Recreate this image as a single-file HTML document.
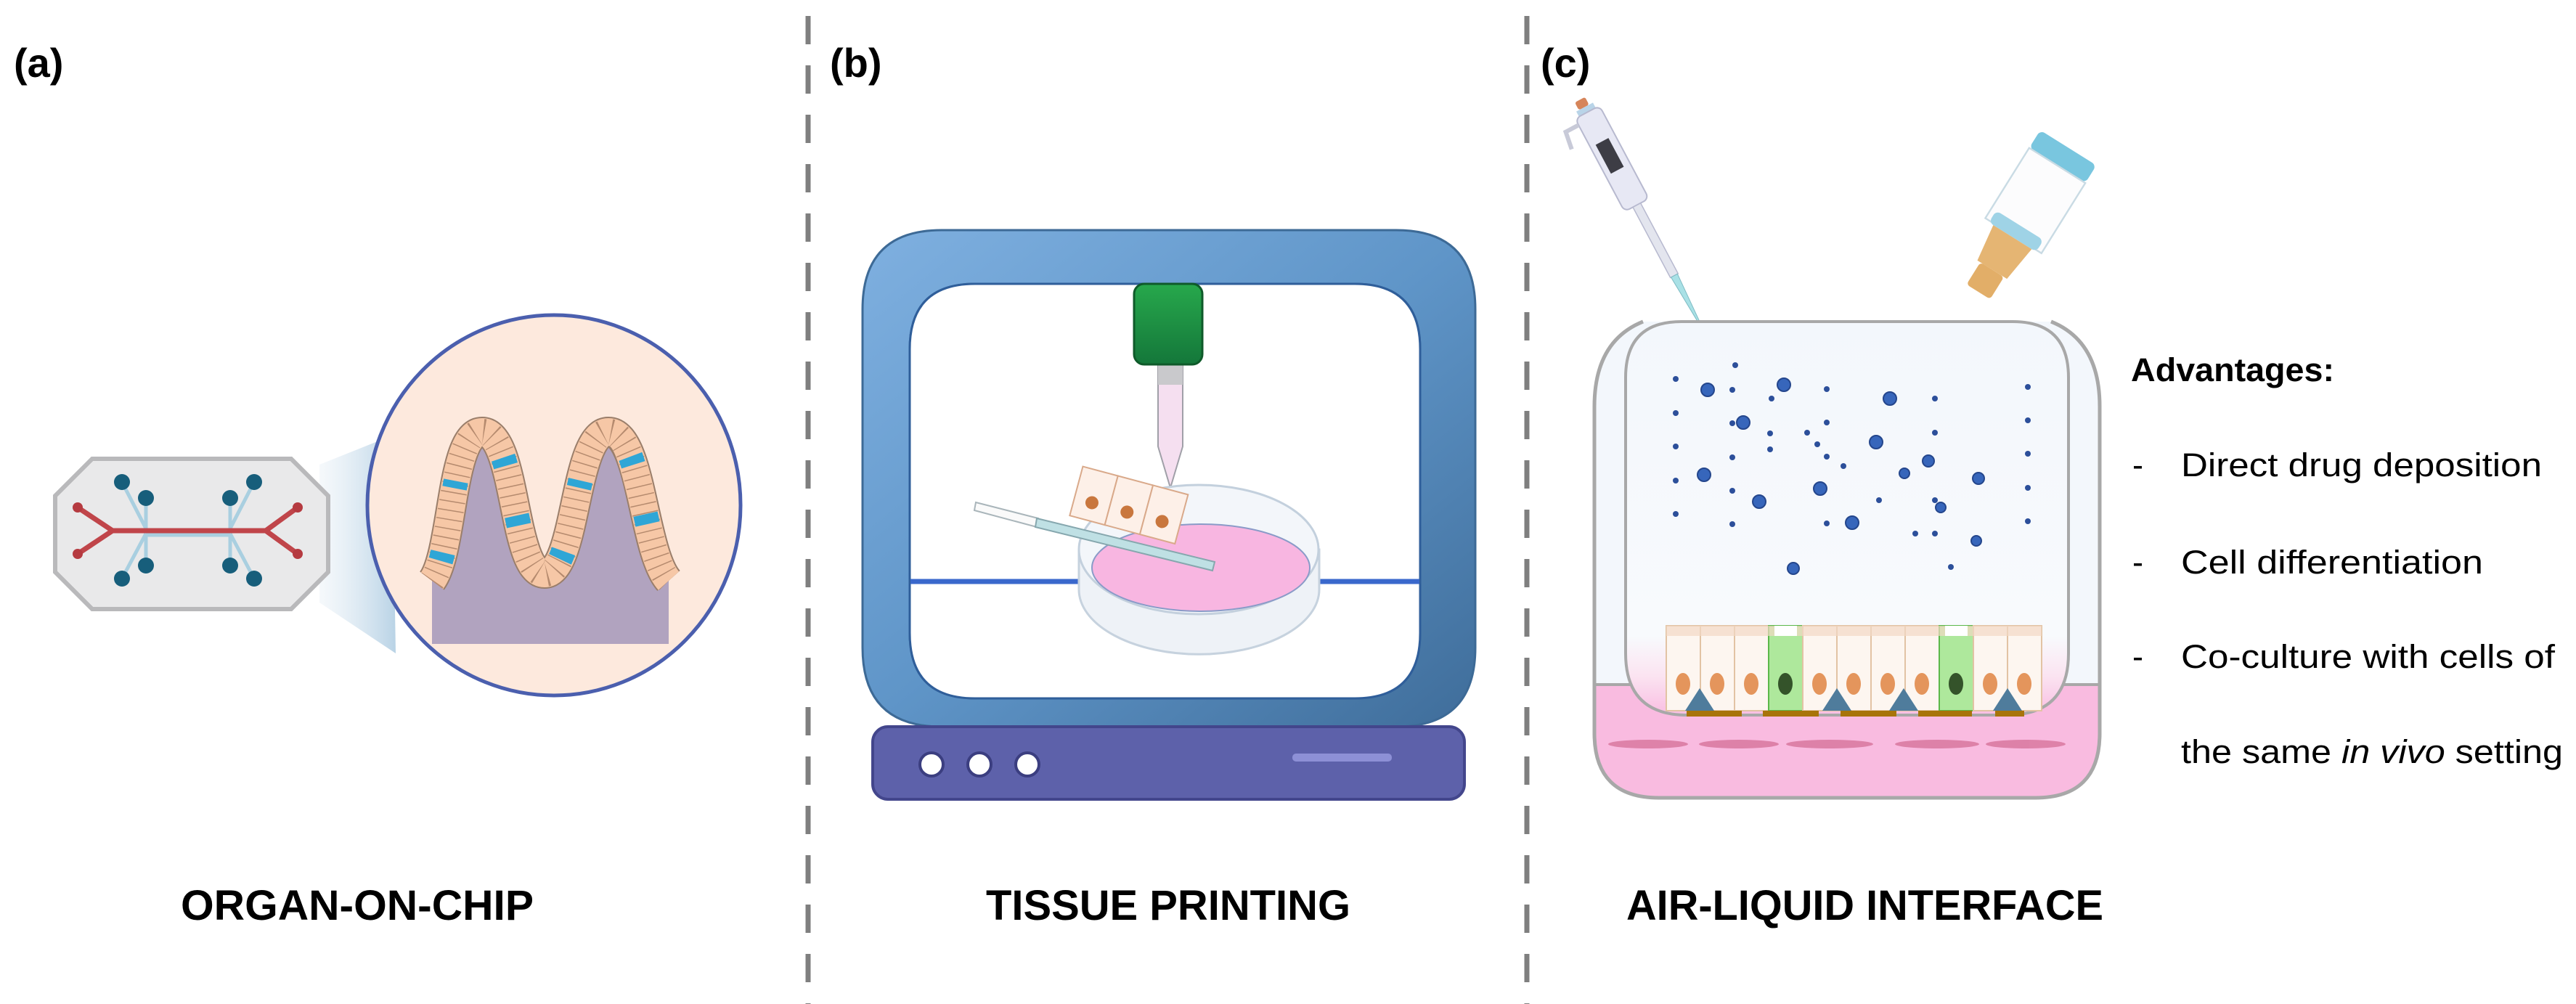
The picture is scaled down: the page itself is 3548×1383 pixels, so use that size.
<!DOCTYPE html>
<html><head><meta charset="utf-8"><style>
html,body{margin:0;padding:0;background:#fff;}
svg{display:block;}
text{font-family:"Liberation Sans",Arial,sans-serif;}
</style></head><body>
<svg width="3548" height="1383" viewBox="0 0 3548 1383" xmlns="http://www.w3.org/2000/svg">
<defs>
<linearGradient id="frameG" x1="0" y1="0" x2="1" y2="1">
<stop offset="0" stop-color="#7fb0e0"/><stop offset="0.5" stop-color="#5f95c8"/><stop offset="1" stop-color="#3f6d9a"/>
</linearGradient>
<linearGradient id="greenG" x1="0" y1="0" x2="0" y2="1">
<stop offset="0" stop-color="#27a84c"/><stop offset="1" stop-color="#14773a"/>
</linearGradient>
<linearGradient id="coneG" x1="0" y1="0" x2="1" y2="0">
<stop offset="0" stop-color="#dfeaf3" stop-opacity="0.3"/><stop offset="1" stop-color="#b9d3e6"/>
</linearGradient>
<linearGradient id="insertG" x1="0" y1="0" x2="0" y2="1">
<stop offset="0" stop-color="#f3f7fc"/><stop offset="0.8" stop-color="#f8fafd"/><stop offset="0.9" stop-color="#fbe4f1"/><stop offset="1" stop-color="#f9bde2"/>
</linearGradient>
<clipPath id="outerC"><path d="M2263,443 Q2196,470 2196,560 L2196,1010 Q2196,1099 2285,1099 L2803,1099 Q2892,1099 2892,1010 L2892,560 Q2892,470 2825,443 Z"/></clipPath>
<clipPath id="circC"><ellipse cx="763" cy="696" rx="255" ry="260"/></clipPath>
</defs>

<line x1="1113" y1="22" x2="1113" y2="1383" stroke="#7f7f7f" stroke-width="7" stroke-dasharray="39 29"/>
<line x1="2103" y1="22" x2="2103" y2="1383" stroke="#7f7f7f" stroke-width="7" stroke-dasharray="39 29"/>

<text x="19" y="106" font-size="56" font-weight="bold" fill="#000">(a)</text>
<text x="1143" y="106" font-size="56" font-weight="bold" fill="#000">(b)</text>
<text x="2122" y="106" font-size="56" font-weight="bold" fill="#000">(c)</text>

<text x="249" y="1267" font-size="58" font-weight="bold" textLength="486" lengthAdjust="spacingAndGlyphs">ORGAN-ON-CHIP</text>
<text x="1358" y="1267" font-size="58" font-weight="bold" textLength="502" lengthAdjust="spacingAndGlyphs">TISSUE PRINTING</text>
<text x="2240" y="1267" font-size="58" font-weight="bold" textLength="657" lengthAdjust="spacingAndGlyphs">AIR-LIQUID INTERFACE</text>

<!-- Panel A -->
<polygon points="440,640 540,600 545,900 440,830" fill="url(#coneG)"/>
<polygon points="127,632 401,632 452,683 452,788 401,839 127,839 76,788 76,683" fill="#e9e9ea" stroke="#b9b9bb" stroke-width="6"/>
<g stroke="#a9cfe0" stroke-width="5" fill="none">
<path d="M168,664 L201,728 M201,686 L201,728 M168,797 L201,735 M201,779 L201,735"/>
<path d="M350,664 L317,728 M317,686 L317,728 M350,797 L317,735 M317,779 L317,735"/>
<path d="M201,737 L317,737"/>
</g>
<g stroke="#c0454a" stroke-width="7" fill="none">
<path d="M107,699 L155,731 L107,763 M155,731 L366,731 M410,699 L366,731 L410,763"/>
</g>
<g fill="#b53a40"><circle cx="107" cy="699" r="7"/><circle cx="107" cy="763" r="7"/><circle cx="410" cy="699" r="7"/><circle cx="410" cy="763" r="7"/></g>
<g fill="#175e7b">
<circle cx="168" cy="664" r="11"/><circle cx="201" cy="686" r="11"/><circle cx="168" cy="797" r="11"/><circle cx="201" cy="779" r="11"/>
<circle cx="350" cy="664" r="11"/><circle cx="317" cy="686" r="11"/><circle cx="350" cy="797" r="11"/><circle cx="317" cy="779" r="11"/>
</g>
<ellipse cx="763" cy="696" rx="257" ry="262" fill="#fde9dd" stroke="#4b5fae" stroke-width="5"/>
<g clip-path="url(#circC)">
<path d="M595,800 C625,760 620,595 664,595 C712,595 705,790 750,790 C795,790 790,595 838,595 C884,595 885,760 921,800 L921,887 L595,887 Z" fill="#b1a3bf"/>
<path d="M595,800 C625,760 620,595 664,595 C712,595 705,790 750,790 C795,790 790,595 838,595 C884,595 885,760 921,800" fill="none" stroke="#9a7e6a" stroke-width="42"/>
<path d="M595,800 C625,760 620,595 664,595 C712,595 705,790 750,790 C795,790 790,595 838,595 C884,595 885,760 921,800" fill="none" stroke="#f6c7a6" stroke-width="38"/>
<path d="M595,800 C625,760 620,595 664,595 C712,595 705,790 750,790 C795,790 790,595 838,595 C884,595 885,760 921,800" fill="none" stroke="#b58a6e" stroke-width="36" stroke-dasharray="1.5 11"/>
<path d="M595,800 C625,760 620,595 664,595 C712,595 705,790 750,790 C795,790 790,595 838,595 C884,595 885,760 921,800" fill="none" stroke="#2fa6d6" stroke-width="34" stroke-dasharray="12 90 10 130 12 70 14 110" stroke-dashoffset="-30"/>
</g>

<!-- Panel B -->
<path fill-rule="evenodd" fill="url(#frameG)" stroke="#3d6a96" stroke-width="3" d="M1297,317 L1923,317 Q2032,317 2032,426 L2032,892 Q2032,1001 1923,1001 L1297,1001 Q1188,1001 1188,892 L1188,426 Q1188,317 1297,317 Z M1343,391 L1866,391 Q1956,391 1956,481 L1956,872 Q1956,962 1866,962 L1343,962 Q1253,962 1253,872 L1253,481 Q1253,391 1343,391 Z"/>
<path fill="#fff" stroke="#2f5e9a" stroke-width="3" d="M1343,391 L1866,391 Q1956,391 1956,481 L1956,872 Q1956,962 1866,962 L1343,962 Q1253,962 1253,872 L1253,481 Q1253,391 1343,391 Z"/>
<line x1="1254" y1="801" x2="1955" y2="801" stroke="#3a68cc" stroke-width="7"/>
<rect x="1202" y="1001" width="815" height="100" rx="21" fill="#5d61aa" stroke="#43468c" stroke-width="4"/>
<g fill="#fff" stroke="#3b3e80" stroke-width="4"><circle cx="1283" cy="1053" r="16"/><circle cx="1349" cy="1053" r="16"/><circle cx="1415" cy="1053" r="16"/></g>
<rect x="1780" y="1038" width="137" height="11" rx="5" fill="#8d90d6"/>
<path d="M1595,500 L1629,500 L1629,615 L1612,672 L1595,615 Z" fill="#f5dff0" stroke="#a0a0a8" stroke-width="2"/>
<rect x="1595" y="500" width="34" height="30" fill="#c9c9cc"/>
<rect x="1562" y="391" width="94" height="111" rx="14" fill="url(#greenG)" stroke="#0f5a2a" stroke-width="3"/>
<path d="M1486,757 L1486,812 A165,89 0 0 0 1817,812 L1817,757 Z" fill="#eef2f7" stroke="#c6d2de" stroke-width="3"/>
<ellipse cx="1651" cy="757" rx="165" ry="89" fill="#f3f6fa" stroke="#c3d0dd" stroke-width="3"/>
<ellipse cx="1654" cy="782" rx="150" ry="60" fill="#f8b6e1" stroke="#8a9bc8" stroke-width="2"/>
<polygon points="1344,692 1430,714 1428,726 1342,703" fill="#fafafa" stroke="#a9b5ba" stroke-width="2"/>
<polygon points="1428,714 1673,774 1670,786 1426,726" fill="#bfe0e4" stroke="#86a7ae" stroke-width="2"/>
<g transform="rotate(15 1550 710)" stroke="#d9a98a" stroke-width="2">
<rect x="1476" y="660" width="50" height="70" fill="#fdf0e8"/>
<rect x="1526" y="660" width="50" height="70" fill="#fdf0e8"/>
<rect x="1576" y="660" width="50" height="70" fill="#fdf0e8"/>
<g fill="#c9773e" stroke="none"><circle cx="1501" cy="705" r="9"/><circle cx="1551" cy="705" r="9"/><circle cx="1601" cy="705" r="9"/></g>
</g>

<!-- Panel C -->
<g transform="translate(0,-30) rotate(-28 2300 260)">
<rect x="2226" y="120" width="16" height="12" rx="3" fill="#d6855a"/>
<rect x="2222" y="132" width="26" height="8" fill="#b9d4e8"/>
<rect x="2216" y="140" width="38" height="145" rx="8" fill="#e7e8f4" stroke="#b7b9cf" stroke-width="2"/>
<path d="M2216,150 L2196,150 L2192,175" fill="none" stroke="#c8cad8" stroke-width="6"/>
<rect x="2224" y="185" width="20" height="45" fill="#3d3d45"/>
<rect x="2229" y="285" width="12" height="110" fill="#e3e5ee" stroke="#b7b9cf" stroke-width="1.5"/>
<path d="M2230,395 L2240,395 L2236,470 L2234,470 Z" fill="#a9e1e6" stroke="#7fbcc4" stroke-width="1"/>
</g>
<g transform="translate(2760 320) scale(1.2) translate(-2760 -320) rotate(32 2760 330)">
<rect x="2728" y="200" width="76" height="24" rx="6" fill="#79c6df"/>
<rect x="2728" y="224" width="76" height="95" fill="#fcfcfd" stroke="#c9dbe4" stroke-width="2"/>
<rect x="2734" y="305" width="64" height="16" rx="6" fill="#9fd3e6"/>
<path d="M2740,321 L2792,321 L2786,365 L2746,365 Z" fill="#e5b573"/>
<rect x="2750" y="365" width="32" height="30" rx="4" fill="#e2ae68"/>
</g>
<path d="M2263,443 Q2196,470 2196,560 L2196,1010 Q2196,1099 2285,1099 L2803,1099 Q2892,1099 2892,1010 L2892,560 Q2892,470 2825,443 Z" fill="#f3f7fc"/>
<g clip-path="url(#outerC)"><rect x="2190" y="943" width="710" height="170" fill="#f9bbe0"/></g>
<line x1="2196" y1="943" x2="2892" y2="943" stroke="#a8a8a8" stroke-width="4"/>
<path d="M2316,443 L2772,443 Q2849,443 2849,520 L2849,900 Q2849,985 2764,985 L2324,985 Q2239,985 2239,900 L2239,520 Q2239,443 2316,443 Z" fill="url(#insertG)" stroke="#a8a8a8" stroke-width="4"/>
<path d="M2263,443 Q2196,470 2196,560 L2196,1010 Q2196,1099 2285,1099 L2803,1099 Q2892,1099 2892,1010 L2892,560 Q2892,470 2825,443" fill="none" stroke="#a8a8a8" stroke-width="5"/>
<g fill="#2c4f9a">
<circle cx="2308" cy="522" r="4"/><circle cx="2390" cy="503" r="4"/><circle cx="2386" cy="537" r="4"/><circle cx="2440" cy="549" r="4"/><circle cx="2516" cy="536" r="4"/><circle cx="2665" cy="549" r="4"/><circle cx="2793" cy="533" r="4"/><circle cx="2308" cy="569" r="4"/><circle cx="2386" cy="583" r="4"/><circle cx="2516" cy="582" r="4"/><circle cx="2438" cy="597" r="4"/><circle cx="2489" cy="596" r="4"/><circle cx="2665" cy="596" r="4"/><circle cx="2793" cy="579" r="4"/><circle cx="2308" cy="615" r="4"/><circle cx="2503" cy="612" r="4"/><circle cx="2438" cy="619" r="4"/><circle cx="2386" cy="630" r="4"/><circle cx="2516" cy="629" r="4"/><circle cx="2539" cy="642" r="4"/><circle cx="2793" cy="625" r="4"/><circle cx="2308" cy="662" r="4"/><circle cx="2386" cy="676" r="4"/><circle cx="2588" cy="689" r="4"/><circle cx="2665" cy="689" r="4"/><circle cx="2793" cy="672" r="4"/><circle cx="2308" cy="708" r="4"/><circle cx="2386" cy="722" r="4"/><circle cx="2516" cy="721" r="4"/><circle cx="2638" cy="735" r="4"/><circle cx="2665" cy="735" r="4"/><circle cx="2793" cy="718" r="4"/><circle cx="2687" cy="781" r="4"/>
</g>
<g fill="#3766bb" stroke="#24468c" stroke-width="2">
<circle cx="2352" cy="537" r="9"/><circle cx="2457" cy="530" r="9"/><circle cx="2603" cy="549" r="9"/><circle cx="2401" cy="582" r="9"/><circle cx="2584" cy="609" r="9"/><circle cx="2656" cy="635" r="8"/><circle cx="2347" cy="654" r="9"/><circle cx="2623" cy="652" r="7"/><circle cx="2725" cy="659" r="8"/><circle cx="2507" cy="673" r="9"/><circle cx="2423" cy="691" r="9"/><circle cx="2673" cy="699" r="7"/><circle cx="2551" cy="720" r="9"/><circle cx="2722" cy="745" r="7"/><circle cx="2470" cy="783" r="8"/>
</g>
<g fill="#d9789f" opacity="0.85">
<ellipse cx="2270" cy="1025" rx="55" ry="6"/><ellipse cx="2395" cy="1025" rx="55" ry="6"/><ellipse cx="2520" cy="1025" rx="60" ry="6"/><ellipse cx="2668" cy="1025" rx="58" ry="6"/><ellipse cx="2790" cy="1025" rx="55" ry="6"/>
</g>
<g stroke="#e2c3a4" stroke-width="2">
<rect x="2295" y="862" width="47" height="117" fill="#fdf6f0"/><rect x="2342" y="862" width="47" height="117" fill="#fdf6f0"/><rect x="2389" y="862" width="47" height="117" fill="#fdf6f0"/>
<rect x="2436" y="862" width="47" height="117" fill="#aee89c" stroke="#5cb84a"/>
<rect x="2483" y="862" width="47" height="117" fill="#fdf6f0"/><rect x="2530" y="862" width="47" height="117" fill="#fdf6f0"/><rect x="2577" y="862" width="47" height="117" fill="#fdf6f0"/><rect x="2624" y="862" width="47" height="117" fill="#fdf6f0"/>
<rect x="2671" y="862" width="47" height="117" fill="#aee89c" stroke="#5cb84a"/>
<rect x="2718" y="862" width="47" height="117" fill="#fdf6f0"/><rect x="2765" y="862" width="47" height="117" fill="#fdf6f0"/>
</g>
<rect x="2295" y="862" width="517" height="14" fill="#f2d8c4" opacity="0.7"/>
<rect x="2444" y="862" width="31" height="14" fill="#fff"/><rect x="2679" y="862" width="31" height="14" fill="#fff"/>
<g fill="#e4955c">
<ellipse cx="2318" cy="942" rx="10" ry="15"/><ellipse cx="2365" cy="942" rx="10" ry="15"/><ellipse cx="2412" cy="942" rx="10" ry="15"/><ellipse cx="2506" cy="942" rx="10" ry="15"/><ellipse cx="2553" cy="942" rx="10" ry="15"/><ellipse cx="2600" cy="942" rx="10" ry="15"/><ellipse cx="2647" cy="942" rx="10" ry="15"/><ellipse cx="2741" cy="942" rx="10" ry="15"/><ellipse cx="2788" cy="942" rx="10" ry="15"/>
</g>
<g fill="#34532a"><ellipse cx="2459" cy="942" rx="10" ry="15"/><ellipse cx="2694" cy="942" rx="10" ry="15"/></g>
<g fill="#4f7c9c">
<polygon points="2341,948 2361,979 2321,979"/><polygon points="2530,948 2550,979 2510,979"/><polygon points="2622,948 2642,979 2602,979"/><polygon points="2765,948 2785,979 2745,979"/>
</g>
<g fill="#a8740a">
<rect x="2323" y="979" width="76" height="8"/><rect x="2428" y="979" width="77" height="8"/><rect x="2535" y="979" width="77" height="8"/><rect x="2642" y="979" width="74" height="8"/><rect x="2748" y="979" width="40" height="8"/>
</g>

<g fill="#000" font-size="45">
<text x="2935" y="525" font-weight="bold" textLength="280" lengthAdjust="spacingAndGlyphs">Advantages:</text>
<text x="2937" y="656">-</text><text x="3004" y="656" textLength="497" lengthAdjust="spacingAndGlyphs">Direct drug deposition</text>
<text x="2937" y="790">-</text><text x="3004" y="790" textLength="416" lengthAdjust="spacingAndGlyphs">Cell differentiation</text>
<text x="2937" y="920">-</text><text x="3004" y="920" textLength="515" lengthAdjust="spacingAndGlyphs">Co-culture with cells of</text>
<text x="3004" y="1051" textLength="526" lengthAdjust="spacingAndGlyphs">the same <tspan font-style="italic">in vivo</tspan> setting</text>
</g>
</svg>
</body></html>
